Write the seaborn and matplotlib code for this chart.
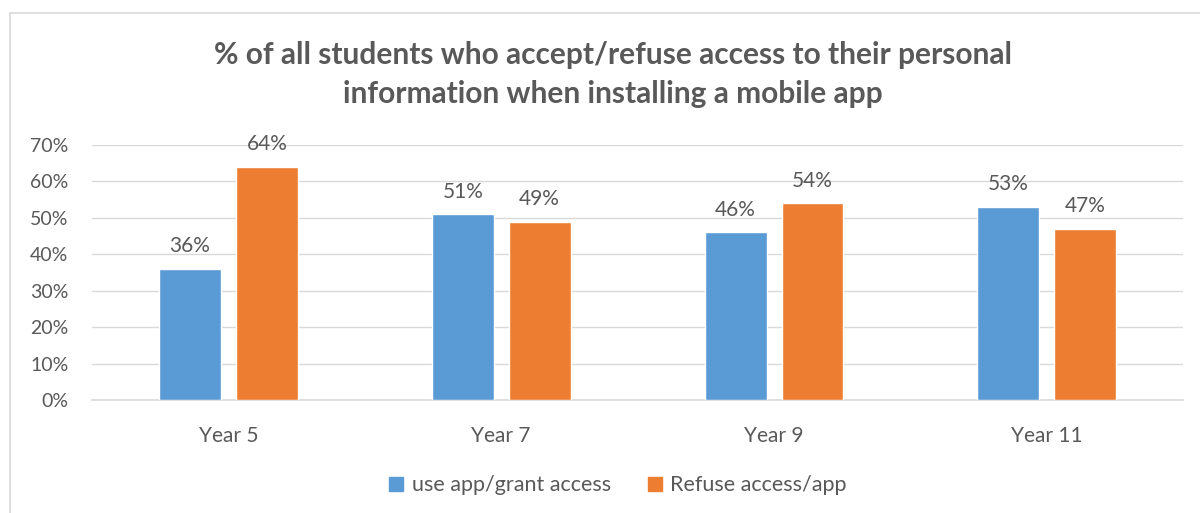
import matplotlib
matplotlib.use("Agg")
import matplotlib.pyplot as plt
import matplotlib.patches as mpatches
import matplotlib.ticker as mticker
import pandas as pd
import seaborn as sns

# Data ---------------------------------------------------------------------
YEARS = ["Year 5", "Year 7", "Year 9", "Year 11"]
SERIES = ["use app/grant access", "Refuse access/app"]
GRANT = [0.36, 0.51, 0.46, 0.53]
REFUSE = [0.64, 0.49, 0.54, 0.47]
PALETTE = {"use app/grant access": "#5B9BD5", "Refuse access/app": "#ED7D31"}
TITLE = ("% of all students who accept/refuse access to their personal\n"
         "information when installing a mobile app")

TXT = "#595959"

sns.set_theme(style="white")
plt.rcParams["font.family"] = ["Lato", "DejaVu Sans"]

df = pd.DataFrame({
    "year": YEARS * 2,
    "series": [SERIES[0]] * len(YEARS) + [SERIES[1]] * len(YEARS),
    "value": GRANT + REFUSE,
})

fig = plt.figure(figsize=(12, 5.13), dpi=100)
ax = fig.add_axes([0.0767, 0.2203, 0.9093, 0.497])

sns.barplot(data=df, x="year", y="value", hue="series", order=YEARS,
            hue_order=SERIES, palette=PALETTE, width=0.564, gap=0.195,
            saturation=1, legend=False, ax=ax, zorder=3)

for cont in ax.containers:
    ax.bar_label(cont, labels=[f"{v:.0%}" for v in cont.datavalues],
                 padding=9, fontsize=15, color=TXT)

ax.set_ylim(0, 0.70)
ax.set_xlim(-0.5, 3.5)
ax.yaxis.set_major_locator(mticker.MultipleLocator(0.10))
ax.yaxis.set_major_formatter(mticker.PercentFormatter(1.0, decimals=0))
ax.grid(axis="y", color="#D9D9D9", lw=1.0, zorder=0)
ax.set_axisbelow(True)
for s in ["top", "right", "left"]:
    ax.spines[s].set_visible(False)
ax.spines["bottom"].set_color("#D9D9D9")
ax.spines["bottom"].set_linewidth(1.2)
ax.tick_params(axis="both", length=0, labelcolor=TXT)
ax.tick_params(axis="x", pad=19, labelsize=15)
ax.tick_params(axis="y", pad=17, labelsize=14)
ax.set_xlabel("")
ax.set_ylabel("")

fig.text(0.511, 0.855, TITLE, ha="center", va="center", fontsize=21.5,
         fontweight="bold", color=TXT, linespacing=1.45)

handles = [mpatches.Patch(color=PALETTE[s], label=s) for s in SERIES]
fig.legend(handles=handles, loc="center", bbox_to_anchor=(0.515, 0.054), ncol=2,
           frameon=False, fontsize=15.5, labelcolor=TXT, handlelength=0.65,
           handleheight=0.65, columnspacing=1.7, handletextpad=0.4)

# chart area border
fig.patches.append(mpatches.Rectangle((10 / 1200, -0.1), 1.2, 1.1 - 13 / 513,
                                      transform=fig.transFigure, fill=False,
                                      edgecolor="#D9D9D9", lw=1.2))

fig.savefig("out.png", dpi=100)
